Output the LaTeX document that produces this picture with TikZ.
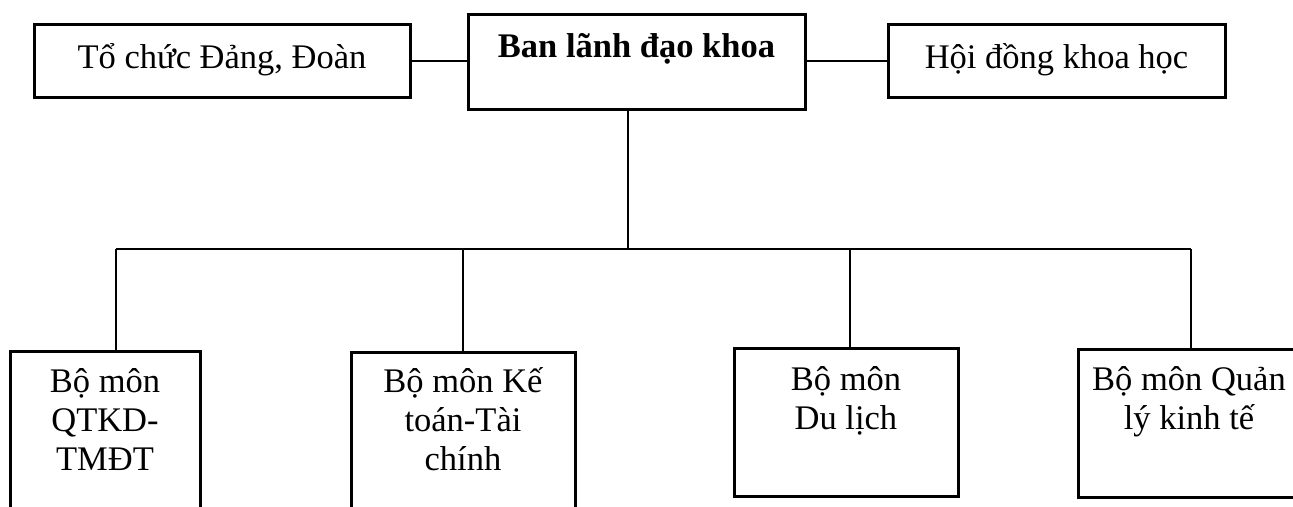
\documentclass[tikz,border=0pt]{standalone}
\usepackage{fontspec}
\setmainfont{Liberation Serif}
\begin{document}
\begin{tikzpicture}[x=1pt,y=-1pt,
  box/.style={draw=black, line width=3pt, minimum width=#1, inner sep=0pt, outer sep=0pt},
  lbl/.style={inner sep=0pt, outer sep=0pt, anchor=base, align=center,
    font=\fontsize{34.5}{39}\selectfont},
  conn/.style={draw=black, line width=2pt}]
\useasboundingbox (0,0) rectangle (1293,506);
% top row
\node[box=376pt, minimum height=73pt] (to) at (222,60.5) {};
\node[box=337pt, minimum height=95pt] (ban) at (636.5,61.5) {};
\node[box=337pt, minimum height=73pt] (hoi) at (1056.5,60.5) {};
\node[lbl] (tot) at (222,68) {Tổ chức Đảng, Đoàn};
\node[lbl, font=\fontsize{34.5}{39}\selectfont\bfseries] (bant) at (636.5,57) {Ban lãnh đạo khoa};
\node[lbl] (hoit) at (1056.5,68) {Hội đồng khoa học};
% bottom row
\node[box=190pt, minimum height=168pt] (ba) at (105,435) {};
\node[box=224pt, minimum height=168pt] (bb) at (463,436) {};
\node[box=224pt, minimum height=148pt] (bc) at (846,422) {};
\node[box=224pt, minimum height=148pt] (bd) at (1190,423) {};
\node[lbl] (bat) at (105,470) {Bộ môn\\QTKD-\\TMĐT};
\node[lbl] (bbt) at (463,470) {Bộ môn Kế\\toán-Tài\\chính};
\node[lbl] (bct) at (846,429) {Bộ môn\\Du lịch};
\node[lbl] (bdt) at (1189,429) {Bộ môn Quản\\lý kinh tế};
% junctions
\coordinate (jm) at (628,249);
\coordinate (ja) at (116,249);
\coordinate (jb) at (463,249);
\coordinate (jc) at (850,249);
\coordinate (jd) at (1191,249);
% connectors
\draw[conn] (to.east) -- (to.east -| ban.west);
\draw[conn] (hoi.west) -- (hoi.west -| ban.east);
\draw[conn] (jm |- ban.south) -- (jm);
\draw[conn] (ja) -- (jd);
\draw[conn] (ja) -- (ja |- ba.north);
\draw[conn] (jb) -- (jb |- bb.north);
\draw[conn] (jc) -- (jc |- bc.north);
\draw[conn] (jd) -- (jd |- bd.north);
\end{tikzpicture}
\end{document}
